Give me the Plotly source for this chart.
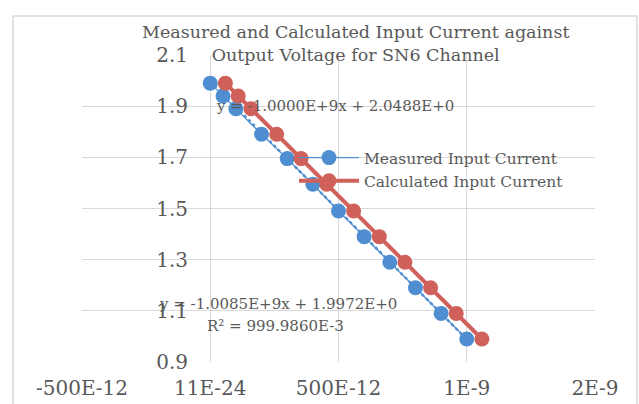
import plotly.graph_objects as go

# Data (x in seconds, y in A)
current = [1.99, 1.94, 1.89, 1.79, 1.695, 1.595, 1.49, 1.39, 1.29, 1.19, 1.09, 0.99]
measured_x = [0.0, 50e-12, 100e-12, 200e-12, 300e-12, 400e-12, 500e-12, 600e-12,
              700e-12, 800e-12, 900e-12, 1000e-12]
calculated_x = [59e-12, 109e-12, 159e-12, 259e-12, 354e-12, 454e-12, 559e-12, 659e-12,
                759e-12, 859e-12, 959e-12, 1059e-12]

# Trendline coefficients (as shown on chart)
meas_slope, meas_icpt = -1.0085e9, 1.9972
calc_slope, calc_icpt = -1.0000e9, 2.0488

x_tickvals = [-500e-12, 0, 500e-12, 1e-9, 1.5e-9]
x_ticktext = ["-500E-12", "11E-24", "500E-12", "1E-9", "2E-9"]
y_tickvals = [0.9, 1.1, 1.3, 1.5, 1.7, 1.9, 2.1]

BLUE = "#4F8ED0"
RED = "#D0605A"
GREY = "#595959"
GRID = "#D9D9D9"
FONT = "DejaVu Serif"

fig = go.Figure()

# calculated trendline (under)
tx = [min(calculated_x), max(calculated_x)]
fig.add_trace(go.Scatter(x=tx, y=[calc_slope * v + calc_icpt for v in tx], mode="lines",
                         line=dict(color=RED, width=2, dash="dot"), showlegend=False, hoverinfo="skip"))

fig.add_trace(go.Scatter(x=measured_x, y=current, mode="lines+markers", name="Measured Input Current",
                         line=dict(color=BLUE, width=1.3),
                         marker=dict(color=BLUE, size=15)))

mx = [min(measured_x), max(measured_x)]
fig.add_trace(go.Scatter(x=mx, y=[meas_slope * v + meas_icpt for v in mx], mode="lines",
                         line=dict(color=BLUE, width=2.5, dash="dot"), showlegend=False, hoverinfo="skip"))

fig.add_trace(go.Scatter(x=calculated_x, y=current, mode="lines+markers", name="Calculated Input Current",
                         line=dict(color=RED, width=4),
                         marker=dict(color=RED, size=15)))

L, R, T, B = 82, 44, 55, 42
W, H = 639, 404
pw, ph = W - L - R, H - T - B

def px(xp):
    return (xp - L) / pw

def py(yp):
    return (H - B - yp) / ph

fig.update_layout(
    width=W, height=H,
    margin=dict(l=L, r=R, t=T, b=B, autoexpand=False),
    paper_bgcolor="white", plot_bgcolor="white",
    font=dict(family=FONT, color=GREY),
    showlegend=True,
    legend=dict(x=px(294), y=py(141), xanchor="left", yanchor="top",
                bgcolor="rgba(0,0,0,0)", font=dict(size=15.5, color=GREY, family=FONT),
                itemwidth=60, tracegroupgap=0),
    xaxis=dict(range=[-500e-12, 1.5e-9], tickvals=x_tickvals, ticktext=x_ticktext,
               showgrid=True, gridcolor=GRID, gridwidth=1, zeroline=False, automargin=False,
               showline=False, ticks="", ticklabelstandoff=12,
               tickfont=dict(size=20, color=GREY, family=FONT)),
    yaxis=dict(range=[0.9, 2.1], tickvals=y_tickvals, tickformat=".1f",
               anchor="free", position=px(210), automargin=False,
               showgrid=True, gridcolor=GRID, gridwidth=1, zeroline=False,
               showline=False, ticks="", ticklabelstandoff=22,
               tickfont=dict(size=20, color=GREY, family=FONT)),
)

# title
fig.add_annotation(text="Measured and Calculated Input Current against<br>Output Voltage for SN6 Channel",
                   xref="paper", yref="paper", x=px(355), y=py(44), xanchor="center", yanchor="middle",
                   showarrow=False, font=dict(size=17.5, color=GREY, family=FONT))

# trendline labels
fig.add_annotation(text="y = -1.0000E+9x + 2.0488E+0", xref="paper", yref="paper",
                   x=px(214), y=py(106), xanchor="left", yanchor="middle", showarrow=False,
                   font=dict(size=15, color=GREY, family=FONT))
fig.add_annotation(text="y = -1.0085E+9x + 1.9972E+0", xref="paper", yref="paper",
                   x=px(157), y=py(304), xanchor="left", yanchor="middle", showarrow=False,
                   font=dict(size=15, color=GREY, family=FONT))
fig.add_annotation(text="R² = 999.9860E-3", xref="paper", yref="paper",
                   x=px(205), y=py(326), xanchor="left", yanchor="middle", showarrow=False,
                   font=dict(size=15, color=GREY, family=FONT))

# outer chart border
fig.add_shape(type="rect", xref="paper", yref="paper", x0=px(13), x1=px(637), y0=py(420), y1=py(16),
              line=dict(color="#D9D9D9", width=1.5), fillcolor="rgba(0,0,0,0)", layer="below")

fig.write_html("out.html")
